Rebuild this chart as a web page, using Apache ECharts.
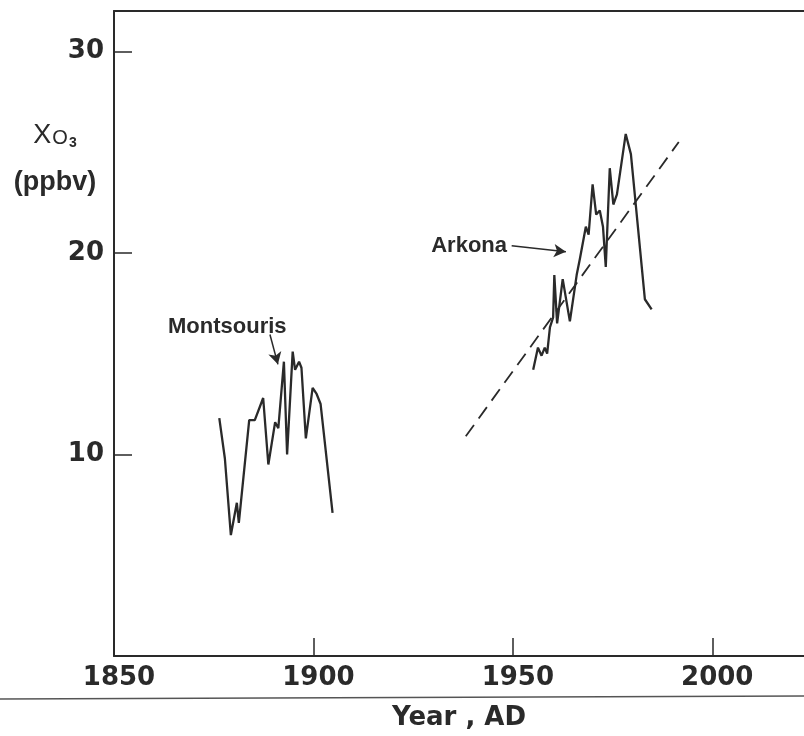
<!DOCTYPE html>
<html lang="en">
<head>
    <meta charset="UTF-8">
    <title>Ozone at Montsouris and Arkona</title>
    <script src="https://cdn.jsdelivr.net/npm/echarts@6/dist/echarts.min.js"></script>
    <style>
        body {
            margin: 0;
            padding: 0;
            overflow: hidden;
            background: #fff;
        }
    </style>
</head>
<body>
    <div id="main" style="width: 804px;height:736px;"></div>
</body>
<script>
    // Montsouris (Paris) record
    var montsourisYears = [1876.4, 1877.8, 1879.3, 1880.8, 1881.3, 1883.9, 1885.3, 1887.4, 1888.7, 1890.4, 1891.2,
        1892.6, 1893.4, 1894.8, 1895.4, 1896.4, 1897.0, 1898.1, 1899.8, 1900.8, 1901.8, 1904.8];
    var montsourisValues = [11.8, 9.8, 6.0, 7.6, 6.6, 11.7, 11.7, 12.8, 9.5, 11.6, 11.3,
        14.6, 10.0, 15.1, 14.2, 14.6, 14.3, 10.8, 13.3, 13.0, 12.5, 7.1];

    // Arkona record
    var arkonaYears = [1955.1, 1956.3, 1957.2, 1958.0, 1958.6, 1959.3, 1960.1, 1960.4, 1961.1, 1962.5, 1964.3,
        1966.0, 1966.8, 1968.3, 1969.0, 1970.0, 1970.9, 1971.8, 1972.6, 1973.3, 1974.3, 1975.2, 1976.1,
        1978.3, 1979.6, 1983.1, 1984.8];
    var arkonaValues = [14.2, 15.3, 14.9, 15.3, 15.0, 16.3, 16.8, 18.9, 16.5, 18.7, 16.6,
        18.9, 19.7, 21.3, 20.9, 23.4, 21.9, 22.1, 21.3, 19.3, 24.2, 22.4, 22.9,
        25.9, 24.9, 17.7, 17.2];

    // dashed trend line
    var trendYears = [1938.2, 1991.6];
    var trendValues = [10.9, 25.5];

    var yTicks = [10, 20, 30];
    var xTicks = [1850, 1900, 1950, 2000];

    function pairs(xs, ys) {
        var out = [];
        for (var i = 0; i < xs.length; i++) {
            out.push([xs[i], ys[i]]);
        }
        return out;
    }

    var ink = '#2a2a2a';
    var font = '"Liberation Sans", Arial, sans-serif';
    var tickFont = '"DejaVu Sans", sans-serif';
    var chart = echarts.init(document.getElementById('main'));

    var arrowStyle = {
        symbol: ['none', 'arrow'],
        symbolSize: [10, 12],
        silent: true,
        animation: false,
        label: { show: false },
        lineStyle: { color: ink, width: 1.5, type: 'solid' }
    };

    option = {
        backgroundColor: '#fff',
        animation: false,
        grid: {
            left: 114,
            right: 0,
            top: 11,
            bottom: 77
        },
        xAxis: [{
            type: 'value',
            min: 1850,
            max: 2023,
            interval: 50,
            name: 'Year , AD',
            nameLocation: 'middle',
            nameGap: 49,
            nameTextStyle: { color: ink, fontSize: 26, fontWeight: 'bold', fontFamily: tickFont },
            splitLine: { show: false },
            axisLine: { lineStyle: { color: ink, width: 2 } },
            axisTick: { inside: true, length: 18, lineStyle: { color: ink, width: 1.5 } },
            axisLabel: {
                color: ink,
                fontSize: 26,
                fontWeight: 'bold',
                fontFamily: tickFont,
                margin: 9,
                padding: [0, 0, 0, 10],
                showMaxLabel: false,
                formatter: function(v) {
                    return xTicks.indexOf(v) >= 0 ? String(v) : '';
                }
            }
        }, {
            // top frame line
            type: 'value',
            position: 'top',
            min: 1850,
            max: 2023,
            axisLine: { lineStyle: { color: ink, width: 2 } },
            axisTick: { show: false },
            axisLabel: { show: false },
            splitLine: { show: false }
        }],
        yAxis: {
            type: 'value',
            min: 0,
            max: 32,
            interval: 10,
            splitLine: { show: false },
            axisLine: { show: true, lineStyle: { color: ink, width: 2 } },
            axisTick: { show: true, inside: true, length: 18, lineStyle: { color: ink, width: 1.5 } },
            axisLabel: {
                color: ink,
                fontSize: 26,
                fontWeight: 'bold',
                fontFamily: tickFont,
                margin: 10,
                padding: [8, 0, 0, 0],
                showMaxLabel: false,
                formatter: function(v) {
                    return yTicks.indexOf(v) >= 0 ? String(v) : '';
                }
            }
        },
        series: [{
            name: 'Montsouris',
            type: 'line',
            showSymbol: false,
            data: pairs(montsourisYears, montsourisValues),
            lineStyle: { color: ink, width: 2.3 },
            markLine: Object.assign({
                data: [[{ coord: [1889.1, 15.95] }, { coord: [1891.1, 14.47] }]]
            }, arrowStyle)
        }, {
            name: 'Arkona',
            type: 'line',
            showSymbol: false,
            data: pairs(arkonaYears, arkonaValues),
            lineStyle: { color: ink, width: 2.3 },
            markLine: Object.assign({
                data: [[{ coord: [1949.7, 20.35] }, { coord: [1963.3, 20.05] }]]
            }, arrowStyle)
        }, {
            name: 'trend',
            type: 'line',
            showSymbol: false,
            data: pairs(trendYears, trendValues),
            lineStyle: { color: ink, width: 1.8, type: [14, 8] }
        }],
        graphic: [{
            type: 'text',
            x: 168,
            y: 327,
            style: { text: 'Montsouris', font: 'bold 22px ' + font, fill: ink, align: 'left', verticalAlign: 'middle' }
        }, {
            type: 'text',
            x: 507,
            y: 246,
            style: { text: 'Arkona', font: 'bold 22px ' + font, fill: ink, align: 'right', verticalAlign: 'middle' }
        }, {
            type: 'text',
            x: 55,
            y: 136,
            style: {
                text: '{chi|Χ}{o|O}{sub|3}',
                align: 'center',
                verticalAlign: 'middle',
                fill: ink,
                rich: {
                    chi: { fontSize: 27, fontFamily: font, fontWeight: 'normal', color: ink },
                    o: { fontSize: 20, fontFamily: font, fontWeight: 'normal', color: ink, padding: [4, 0, 0, 1] },
                    sub: { fontSize: 14, fontFamily: font, fontWeight: 'bold', color: ink, padding: [14, 0, 0, 1] }
                }
            }
        }, {
            type: 'text',
            x: 55,
            y: 183,
            style: { text: '(ppbv)', font: 'bold 27px ' + font, fill: ink, align: 'center', verticalAlign: 'middle' }
        }, {
            // rule under the axis labels
            type: 'line',
            shape: { x1: 0, y1: 699, x2: 804, y2: 696 },
            style: { stroke: '#555', lineWidth: 1.5 }
        }]
    };
    chart.setOption(option);
</script>
</html>
